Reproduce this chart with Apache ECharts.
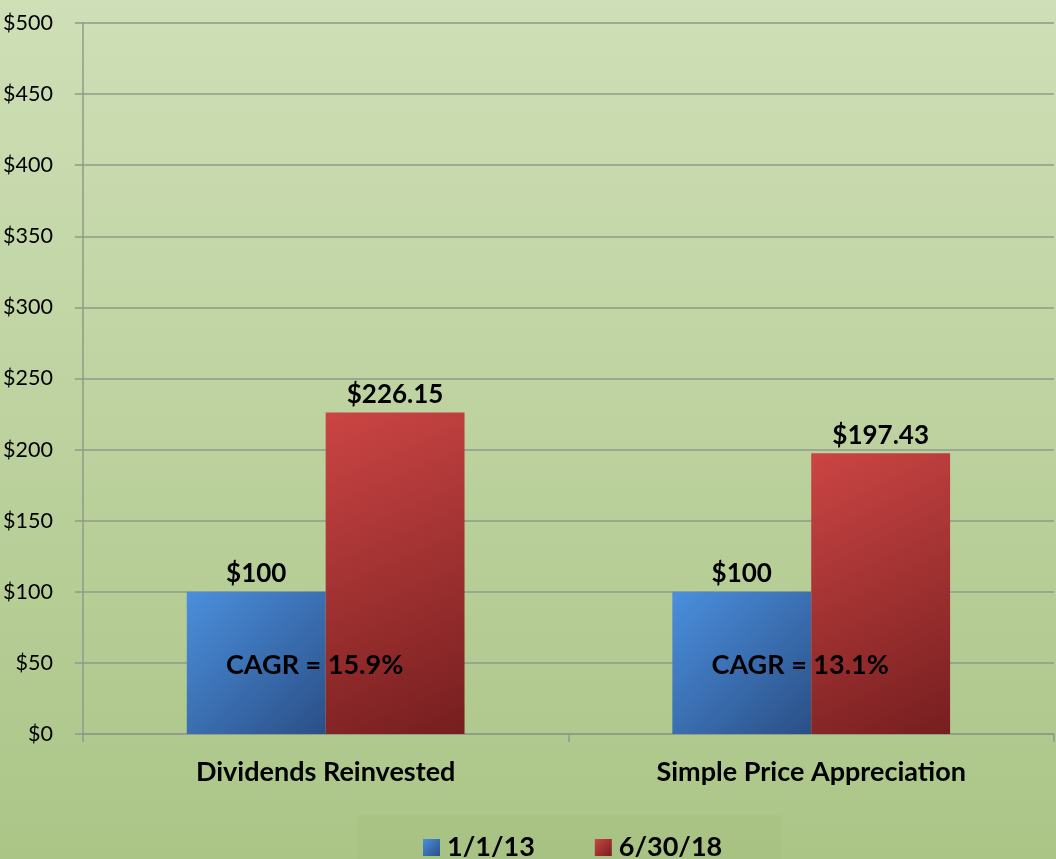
<!DOCTYPE html>
<html><head><meta charset="utf-8">
<script src="https://cdn.jsdelivr.net/npm/echarts@6/dist/echarts.min.js"></script>
<style>html,body{margin:0;padding:0;}#c{width:1056px;height:859px;}</style>
</head><body><div id="c"></div>
<script>
const categories = ['Dividends Reinvested', 'Simple Price Appreciation'];
const seriesNames = ['1/1/13', '6/30/18'];
const startValues = [100, 100];
const endValues = [226.15, 197.43];
const cagrLabels = ['CAGR = 15.9%', 'CAGR = 13.1%'];
const cagrPos = [50, 50];
const yTicks = {min: 0, max: 500, interval: 50};

const FONT = 'Lato, "Open Sans", sans-serif';
const chart = echarts.init(document.getElementById('c'), null, {renderer: 'canvas'});
const blue = new echarts.graphic.LinearGradient(0, 0, 1, 1, [{offset: 0, color: '#4b8fdd'}, {offset: 1, color: '#2a4f86'}]);
const red = new echarts.graphic.LinearGradient(0, 0, 1, 1, [{offset: 0, color: '#cb4544'}, {offset: 1, color: '#761e1f'}]);
function fmt(v){ return '$' + (Number.isInteger(v) ? v : v.toFixed(2)); }
const boldLbl = {fontFamily: FONT, fontSize: 26, fontWeight: 'bold', color: '#000'};
chart.setOption({
  backgroundColor: new echarts.graphic.LinearGradient(0, 0, 0, 1, [{offset: 0, color: '#cfdfb7'}, {offset: 1, color: '#abc587'}]),
  textStyle: {fontFamily: FONT},
  graphic: [{type: 'rect', left: 358, top: 815, shape: {width: 424, height: 44}, style: {fill: 'rgba(150,170,110,0.12)'}, silent: true}],
  grid: {left: 82, right: 2, top: 23, bottom: 125},
  legend: {
    data: seriesNames, left: 418, top: 829, itemWidth: 17, itemHeight: 17, itemGap: 60,
    icon: 'rect',
    textStyle: {fontFamily: FONT, fontSize: 27, fontWeight: 'bold', color: '#000', padding: [0,0,0,2]}
  },
  xAxis: {
    type: 'category', data: categories,
    axisLine: {lineStyle: {color: '#8f9a88', width: 1.5}},
    axisTick: {show: true, length: 8, lineStyle: {color: '#8f9a88', width: 1.5}},
    axisLabel: {fontFamily: FONT, fontSize: 27, fontWeight: 'bold', color: '#000', margin: 25}
  },
  yAxis: {
    type: 'value', min: yTicks.min, max: yTicks.max, interval: yTicks.interval,
    axisLine: {show: true, lineStyle: {color: '#8f9a88', width: 1.5}},
    axisTick: {show: true, length: 8, lineStyle: {color: '#8f9a88', width: 1.5}},
    splitLine: {lineStyle: {color: '#8f9a88', width: 1.5}},
    axisLabel: {fontFamily: FONT, fontSize: 21.5, color: '#000', margin: 30, formatter: v => '$' + v}
  },
  series: [
    {name: seriesNames[0], type: 'bar', data: startValues, barGap: '0%', barCategoryGap: '42.8%',
     itemStyle: {color: blue},
     label: Object.assign({show: true, position: 'top', distance: 5, formatter: p => fmt(p.value)}, boldLbl)},
    {name: seriesNames[1], type: 'bar', data: endValues, barGap: '0%', barCategoryGap: '42.8%',
     itemStyle: {color: red},
     label: Object.assign({show: true, position: 'top', distance: 5, formatter: p => fmt(p.value)}, boldLbl)},
    {type: 'scatter', data: cagrPos.map((v, i) => [i, v]), symbol: 'rect', symbolSize: 1, silent: true, z: 10,
     itemStyle: {color: 'rgba(0,0,0,0)', opacity: 1},
     label: {show: true, position: 'top', distance: -16, offset: [-11, 0], opacity: 1,
       formatter: p => cagrLabels[p.dataIndex],
       fontFamily: FONT, fontSize: 27, fontWeight: 'bold', color: '#000', textBorderWidth: 0}}
  ]
});
</script></body></html>
